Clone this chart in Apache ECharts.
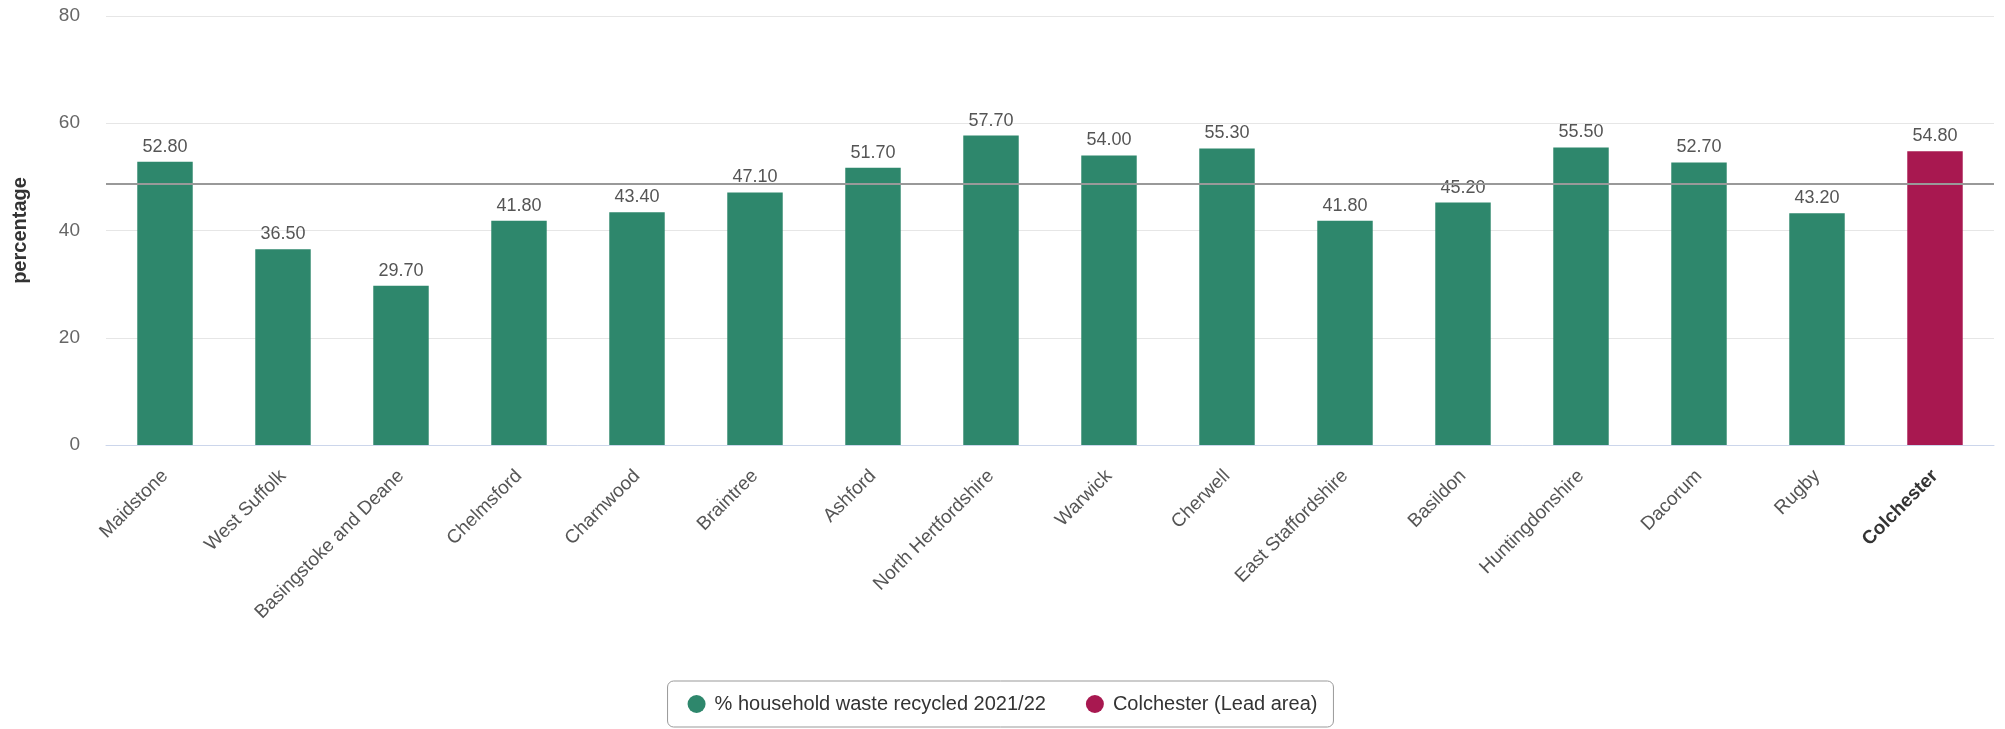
<!DOCTYPE html>
<html>
<head>
<meta charset="utf-8">
<script src="https://cdn.jsdelivr.net/npm/echarts@6/dist/echarts.min.js"></script>
<style>
html,body{margin:0;padding:0;background:#fff;}
#chart{width:2005px;height:729px;}
</style>
</head>
<body>
<div id="chart"></div>
<script>
const categories = ["Maidstone","West Suffolk","Basingstoke and Deane","Chelmsford","Charnwood","Braintree","Ashford","North Hertfordshire","Warwick","Cherwell","East Staffordshire","Basildon","Huntingdonshire","Dacorum","Rugby","Colchester"];
const comparatorValues = [52.8,36.5,29.7,41.8,43.4,47.1,51.7,57.7,54.0,55.3,41.8,45.2,55.5,52.7,43.2,null];
const leadValues = [null,null,null,null,null,null,null,null,null,null,null,null,null,null,null,54.8];
const referenceLine = 48.7;
const leadArea = "Colchester";
const seriesNames = ["% household waste recycled 2021/22","Colchester (Lead area)"];
const yTicks = {min:0,max:80,interval:20};

const FONT = '"Liberation Sans", Arial, sans-serif';
const chart = echarts.init(document.getElementById('chart'));
const valueLabel = {
  show:true, position:'top', distance:6,
  fontFamily:FONT, fontSize:18, color:'#555',
  formatter: p => (p.value==null?'':Number(p.value).toFixed(2))
};
chart.setOption({
  animation:false,
  textStyle:{fontFamily:FONT},
  grid:{left:106,right:11,top:16,bottom:284},
  legend:{
    top:681, left:'center',
    data:seriesNames,
    icon:'circle', itemWidth:18, itemHeight:20, itemGap:40,
    borderColor:'#999', borderWidth:1, borderRadius:6,
    padding:[13,16,13,20],
    textStyle:{fontFamily:FONT,fontSize:20,color:'#333',padding:[0,0,0,4]}
  },
  xAxis:{
    type:'category', data:categories,
    axisLine:{lineStyle:{color:'#ccd6eb',width:1}},
    axisTick:{show:false},
    axisLabel:{
      interval:0, rotate:45, margin:28,
      fontFamily:FONT, fontSize:19, color:'#555',
      formatter: v => v===leadArea ? '{b|'+v+'}' : v,
      rich:{b:{fontFamily:FONT,fontSize:19,fontWeight:'bold',color:'#333'}}
    }
  },
  yAxis:{
    type:'value', min:yTicks.min, max:yTicks.max, interval:yTicks.interval,
    name:'percentage', nameLocation:'middle', nameGap:76,
    nameTextStyle:{fontFamily:FONT,fontSize:20,fontWeight:'bold',color:'#333'},
    axisLine:{show:false}, axisTick:{show:false},
    axisLabel:{fontFamily:FONT,fontSize:19,color:'#666',margin:26},
    splitLine:{lineStyle:{color:'#e6e6e6',width:1}}
  },
  series:[
    {
      name:seriesNames[0], type:'bar', data:comparatorValues,
      barWidth:'47%', barGap:'-100%',
      itemStyle:{color:'#2e876c'},
      label:valueLabel,
      markLine:{
        silent:true, symbol:['none','none'],
        label:{show:false},
        lineStyle:{color:'#999',width:2,type:'solid'},
        data:[{yAxis:referenceLine}]
      },
      z:2
    },
    {
      name:seriesNames[1], type:'bar', data:leadValues,
      barWidth:'47%', barGap:'-100%',
      itemStyle:{color:'#a81850'},
      label:valueLabel,
      z:2
    }
  ]
});
</script>
</body>
</html>
